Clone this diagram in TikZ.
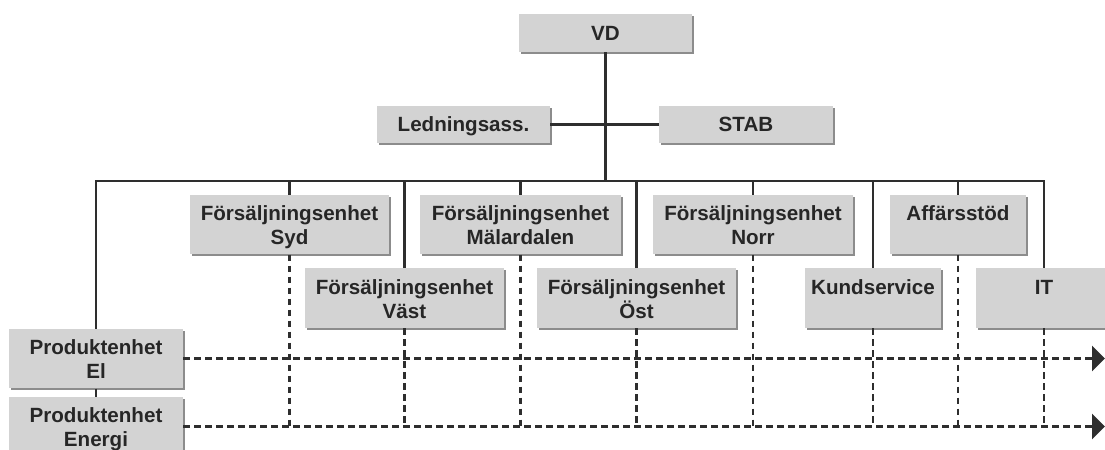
\documentclass[tikz,border=0pt]{standalone}
\usepackage{fontspec}
\setmainfont{Liberation Sans}
\usepackage{tikz}
\usetikzlibrary{arrows.meta,shadows,calc}

\definecolor{boxgray}{HTML}{D3D3D3}
\definecolor{shadegray}{HTML}{8C8C8C}
\definecolor{linegray}{HTML}{2E2E2E}

\begin{document}
\begin{tikzpicture}[x=0.5pt,y=-0.5pt,%
        orgbox/.style={fill=boxgray, text=black!85, inner sep=0pt,
          font=\bfseries\fontsize{10.3pt}{12pt}\selectfont, align=center,
          general shadow={fill=shadegray, shadow xshift=1pt, shadow yshift=-1pt}},
        oneline/.style={orgbox, minimum height=18.75pt, text height=7.35pt, text depth=0pt},
        twoline/.style={orgbox, minimum height=29.6pt, text height=20pt, text depth=0pt},
        topline/.style={orgbox, minimum height=29.6pt, text height=7.35pt, text depth=11.35pt},
        tree/.style={draw=linegray, line width=1.1pt},
        matrixline/.style={draw=linegray, line width=1.2pt, dash pattern=on 3.4pt off 2.1pt},
        auto]

        \useasboundingbox (0,0) rectangle (1105,450);
        \clip (0,0) rectangle (1105,450);

        %% top
        \node [oneline, minimum width=86.5pt] (vd) at (605.5,33) {VD};
        \node [oneline, minimum width=86.5pt] (ledn) at (463.5,124.5) {Ledningsass.};
        \node [oneline, minimum width=87pt] (stab) at (746,124.5) {STAB};
        \coordinate (bus) at (606,181);

        %% first row
        \node [twoline, minimum width=99.5pt] (fe_syd) at (289.5,224.5) {Försäljningsenhet\\Syd};
        \node [twoline, minimum width=100.5pt] (fe_mal) at (520.5,224.5) {Försäljningsenhet\\Mälardalen};
        \node [twoline, minimum width=100pt] (fe_norr) at (753,224.5) {Försäljningsenhet\\Norr};
        \node [topline, minimum width=68pt] (affstod) at (958,224.5) {Affärsstöd};
        %% second row
        \node [twoline, minimum width=99.5pt] (fe_vast) at (404.5,298) {Försäljningsenhet\\Väst};
        \node [twoline, minimum width=99.5pt] (fe_ost) at (636.5,298) {Försäljningsenhet\\Öst};
        \node [topline, minimum width=68pt] (kundserv) at (873,298) {Kundservice};
        \node [topline, minimum width=68pt] (it) at (1044,298) {IT};
        %% product units
        \node [twoline, minimum width=87pt] (pe_el) at (96,358.5) {Produktenhet\\El};
        \node [twoline, minimum width=87pt] (pe_energi) at (96,426.5) {Produktenhet\\Energi};

        \draw [tree] (vd) -- (vd |- bus);
        \draw [tree] (ledn) -- (stab);
        \draw [tree] (pe_el) -- (pe_el |- bus) -- (it |- bus) -- (it);
        \foreach \b in {fe_syd,fe_vast,fe_mal,fe_ost,fe_norr,kundserv,affstod} {
          \draw [tree] (\b) -- (\b |- bus);
        }
        \draw [tree] (pe_el) -- (pe_energi);

        %% dashed matrix
        \foreach \b in {fe_syd,fe_vast,fe_mal,fe_ost,fe_norr,kundserv,affstod,it} {
          \draw [matrixline] (\b.south) -- (\b.south |- pe_energi.east);
        }
        \coordinate (rim) at (1105,0);
        \foreach \p in {pe_el,pe_energi} {
          \draw [matrixline, -{Triangle[length=6.5pt,width=12.5pt]}] (\p) -- (\p -| rim);
        }

      \end{tikzpicture}
\end{document}
